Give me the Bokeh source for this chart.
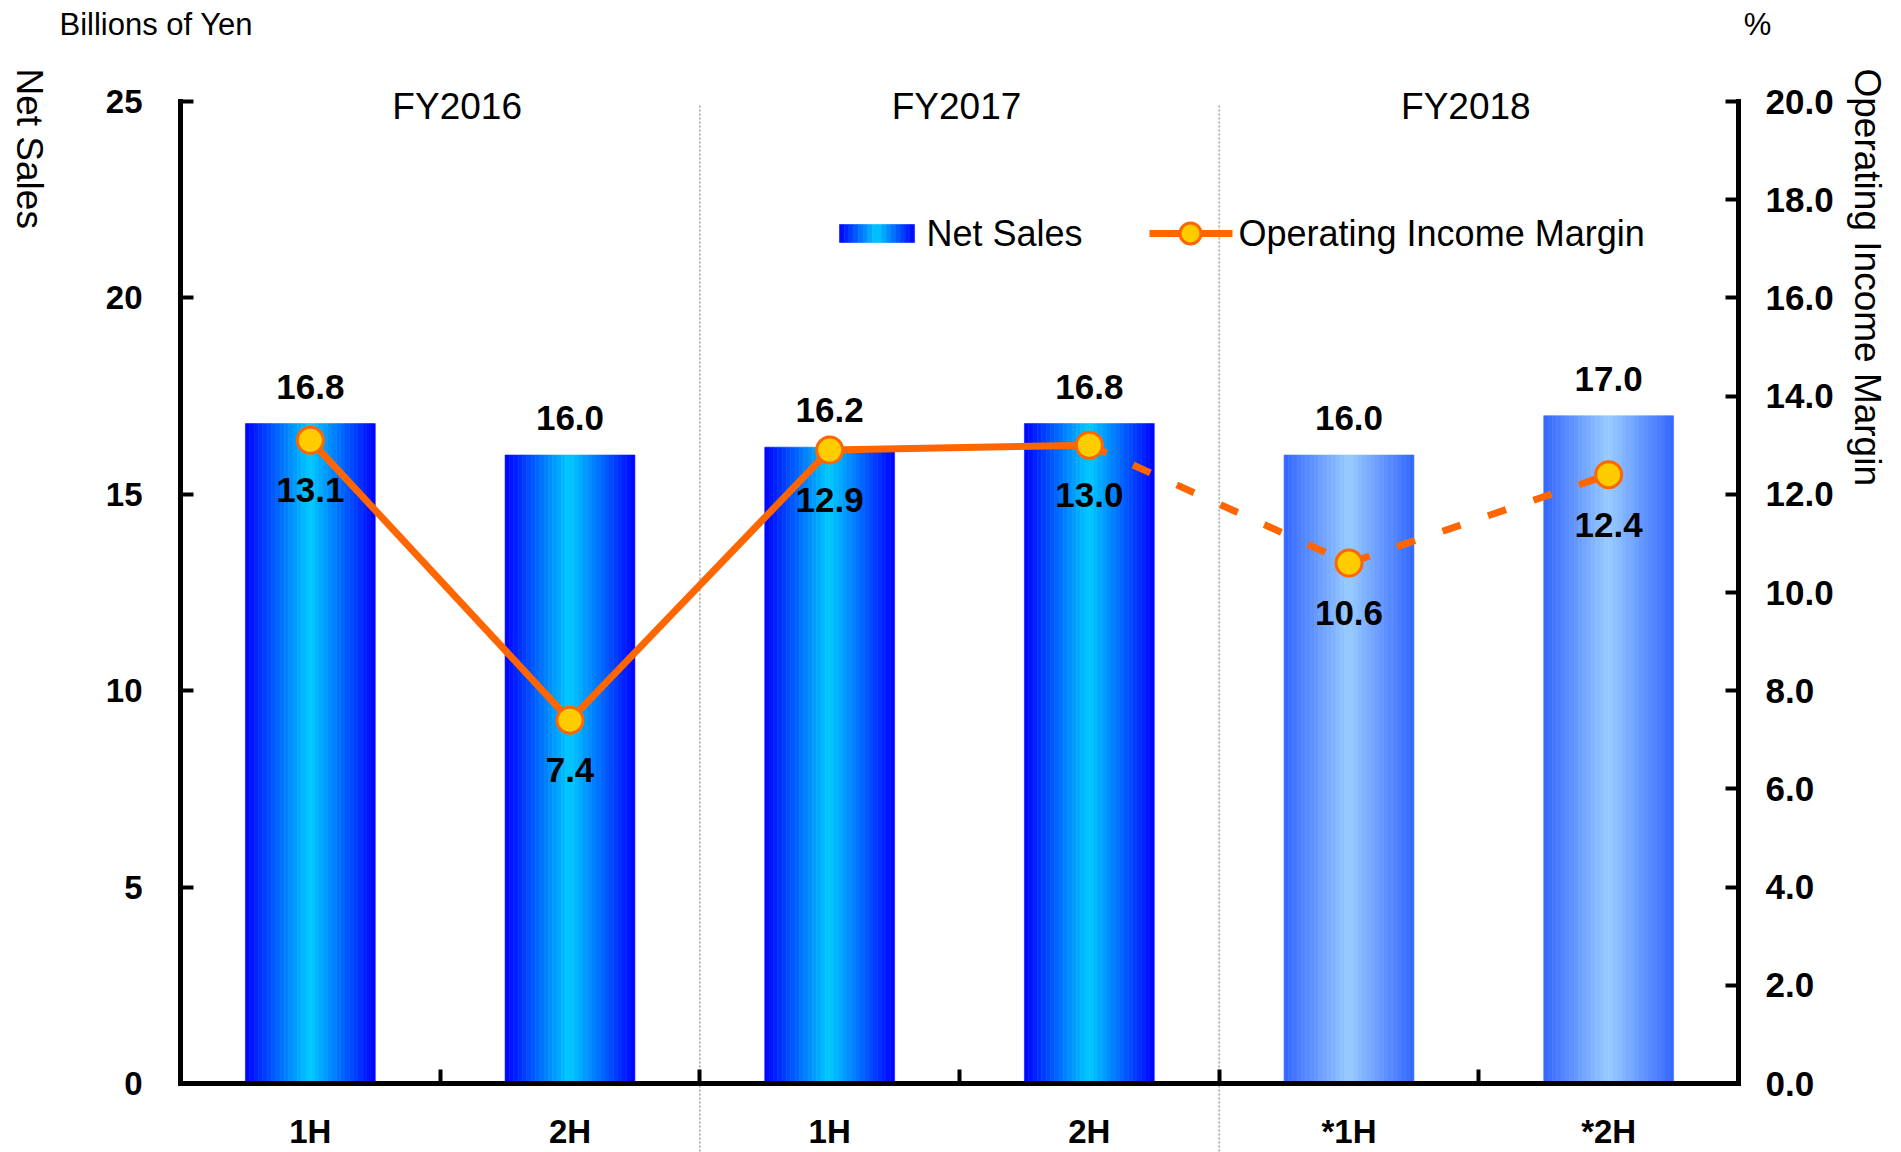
import math
from bokeh.plotting import figure
from bokeh.models import (ColumnDataSource, Range1d, LinearAxis, FixedTicker,
                          PrintfTickFormatter, Label, LabelSet)
from bokeh.core.properties import value
from bokeh.embed import file_html
from bokeh.resources import INLINE

# ---------------- data ----------------
fiscal_years = ["FY2016", "FY2017", "FY2018"]
halves = ["1H", "2H", "1H", "2H", "*1H", "*2H"]
year_of_bar = [0, 0, 1, 1, 2, 2]
net_sales = [16.8, 16.0, 16.2, 16.8, 16.0, 17.0]
op_margin = [13.1, 7.4, 12.9, 13.0, 10.6, 12.4]
is_forecast = [False, False, False, False, True, True]
left_ticks = [0, 5, 10, 15, 20, 25]
right_ticks = [0, 2, 4, 6, 8, 10, 12, 14, 16, 18, 20]

# ---------------- layout (pixel geometry of the chart area) ----------------
W, H = 1901, 1152
FL, FR, FT, FB = 180, 1738, 101, 1083
n = len(halves)
YMAX_L, YMAX_R = 25, 20
FONT = "Liberation Sans"


def px(xp):
    return (xp - FL) / (FR - FL) * n


def py(yp):
    return (FB - yp) / (FB - FT) * YMAX_L


def pp(yp):
    return (FB - yp) / (FB - FT) * YMAX_R


def lerp_color(c1, c2, t):
    a = [int(c1[i:i + 2], 16) for i in (1, 3, 5)]
    b = [int(c2[i:i + 2], 16) for i in (1, 3, 5)]
    return "#%02x%02x%02x" % tuple(int(round(a[k] + (b[k] - a[k]) * t)) for k in range(3))


p = figure(width=W, height=H, output_backend="svg", toolbar_location=None,
           x_range=Range1d(px(0), px(W)), y_range=Range1d(py(H), py(0)),
           x_axis_location=None, y_axis_location=None,
           min_border=0, min_border_left=0, min_border_right=0,
           min_border_top=0, min_border_bottom=0)
p.extra_y_ranges = {"pct": Range1d(pp(H), pp(0))}
p.outline_line_color = None
p.xgrid.grid_line_color = None
p.ygrid.grid_line_color = None
p.background_fill_color = "white"
p.border_fill_color = "white"

# ---------------- bars with gradient strips ----------------
bar_w = 0.5
NS = 30
centers = [i + 0.5 for i in range(n)]
edge_cols = {False: "#0000ff", True: "#3366ff"}
mid_cols = {False: "#00ccff", True: "#99ccff"}
L, R, T, B, C = [], [], [], [], []
for i in range(n):
    x0 = centers[i] - bar_w / 2
    for k in range(NS):
        t = (k + 0.5) / NS
        f = 1 - abs(2 * t - 1)
        L.append(x0 + k * bar_w / NS)
        R.append(x0 + (k + 1) * bar_w / NS)
        T.append(net_sales[i])
        B.append(0)
        C.append(lerp_color(edge_cols[is_forecast[i]], mid_cols[is_forecast[i]], f))
strips = ColumnDataSource(dict(left=L, right=R, top=T, bottom=B, color=C))
p.quad(left="left", right="right", top="top", bottom="bottom", source=strips,
       fill_color="color", line_color="color", line_width=0.6)

# ---------------- separators between fiscal years ----------------
sep_x = [i for i in range(1, n) if year_of_bar[i] != year_of_bar[i - 1]]
p.segment(x0=sep_x, x1=sep_x, y0=[py(105)] * len(sep_x), y1=[py(H)] * len(sep_x),
          line_color="#a0a0a0", line_width=1.5, line_dash="2 2")

# ---------------- margin line ----------------
actual_idx = [i for i in range(n) if not is_forecast[i]]
fc_idx = [actual_idx[-1]] + [i for i in range(n) if is_forecast[i]]
p.line([centers[i] for i in actual_idx], [op_margin[i] for i in actual_idx],
       y_range_name="pct", line_color="#ff6600", line_width=7, line_join="round")
p.line([centers[i] for i in fc_idx], [op_margin[i] for i in fc_idx],
       y_range_name="pct", line_color="#ff6600", line_width=7, line_dash="19 29")
p.scatter(centers, op_margin, y_range_name="pct", size=26, fill_color="#ffcc00",
          line_color="#ff6600", line_width=3)

# ---------------- data labels ----------------
lab_src = ColumnDataSource(dict(x=centers, ns=net_sales, om=op_margin,
                                ns_t=["%.1f" % v for v in net_sales],
                                om_t=["%.1f" % v for v in op_margin]))
p.add_layout(LabelSet(x="x", y="ns", text="ns_t", source=lab_src, y_offset=37,
                      text_align="center", text_baseline="middle",
                      text_font=value(FONT), text_font_size=value("35px"),
                      text_font_style="bold", text_color="black"))
p.add_layout(LabelSet(x="x", y="om", text="om_t", source=lab_src, y_offset=-50,
                      y_range_name="pct",
                      text_align="center", text_baseline="middle",
                      text_font=value(FONT), text_font_size=value("35px"),
                      text_font_style="bold", text_color="black"))


def text_label(xp, yp, text, size, align="left", baseline="middle", angle=0.0):
    p.add_layout(Label(x=px(xp), y=py(yp), text=text, angle=angle,
                       text_align=align, text_baseline=baseline,
                       text_font=FONT, text_font_size=size, text_color="black"))


# ---------------- fiscal year labels ----------------
fy_offsets = [17, -3, -13]
for g, name in enumerate(fiscal_years):
    xs = [centers[i] for i in range(n) if year_of_bar[i] == g]
    p.add_layout(Label(x=sum(xs) / len(xs), y=py(106), x_offset=fy_offsets[g], text=name,
                       text_align="center", text_baseline="middle",
                       text_font=FONT, text_font_size="37px", text_color="black"))

# ---------------- axes (fixed at the chart edges) ----------------
def style_axis(ax, size):
    ax.axis_line_width = 5
    ax.axis_line_color = "black"
    ax.axis_line_cap = "square"
    ax.major_tick_line_width = 4
    ax.major_tick_line_color = "black"
    ax.major_tick_in = 13
    ax.major_tick_out = 0
    ax.minor_tick_line_color = None
    ax.major_label_text_font = FONT
    ax.major_label_text_font_size = size
    ax.major_label_text_font_style = "bold"
    ax.major_label_text_color = "black"


yl = LinearAxis(ticker=FixedTicker(ticks=left_ticks), fixed_location=0,
                bounds=(0, YMAX_L))
style_axis(yl, "33px")
yl.major_label_standoff = 38
p.add_layout(yl, "left")

yr = LinearAxis(y_range_name="pct", ticker=FixedTicker(ticks=right_ticks),
                formatter=PrintfTickFormatter(format="%.1f"), fixed_location=n,
                bounds=(0, YMAX_R))
style_axis(yr, "35px")
yr.major_label_standoff = 27
p.add_layout(yr, "right")

xa = LinearAxis(ticker=FixedTicker(ticks=centers, minor_ticks=list(range(n + 1))),
                fixed_location=0, bounds=(0, n))
style_axis(xa, "33px")
xa.major_tick_in = 0
xa.major_tick_out = 0
xa.minor_tick_in = 14
xa.minor_tick_out = 0
xa.minor_tick_line_width = 4
xa.minor_tick_line_color = "black"
xa.major_label_overrides = {c: h for c, h in zip(centers, halves)}
xa.major_label_standoff = 29
p.add_layout(xa, "below")

# ---------------- titles ----------------
text_label(59, 24, "Billions  of Yen", "31px")
text_label(1757, 24, "%", "31px", align="center")
text_label(29, 68, "Net Sales", "37px", angle=-math.pi / 2)
text_label(1867, 68, "Operating Income Margin", "37px", angle=-math.pi / 2)

# ---------------- legend ----------------
LS = 16
sw_l, sw_r = px(839), px(914)
leg_src = ColumnDataSource(dict(
    left=[sw_l + (sw_r - sw_l) * k / LS for k in range(LS)],
    right=[sw_l + (sw_r - sw_l) * (k + 1) / LS for k in range(LS)],
    top=[py(224)] * LS, bottom=[py(242)] * LS,
    color=[lerp_color("#0000ff", "#00ccff", 1 - abs(2 * (k + 0.5) / LS - 1)) for k in range(LS)]))
p.quad(left="left", right="right", top="top", bottom="bottom", source=leg_src,
       fill_color="color", line_color="color", line_width=0.6)
text_label(926, 233, "Net Sales", "36px")
p.line([px(1149), px(1232)], [py(233), py(233)], line_color="#ff6600", line_width=7)
p.scatter([px(1190)], [py(233)], size=21, fill_color="#ffcc00", line_color="#ff6600",
          line_width=3)
text_label(1238, 233, "Operating Income Margin", "36px")

open("out.html", "w").write(file_html(p, INLINE))
